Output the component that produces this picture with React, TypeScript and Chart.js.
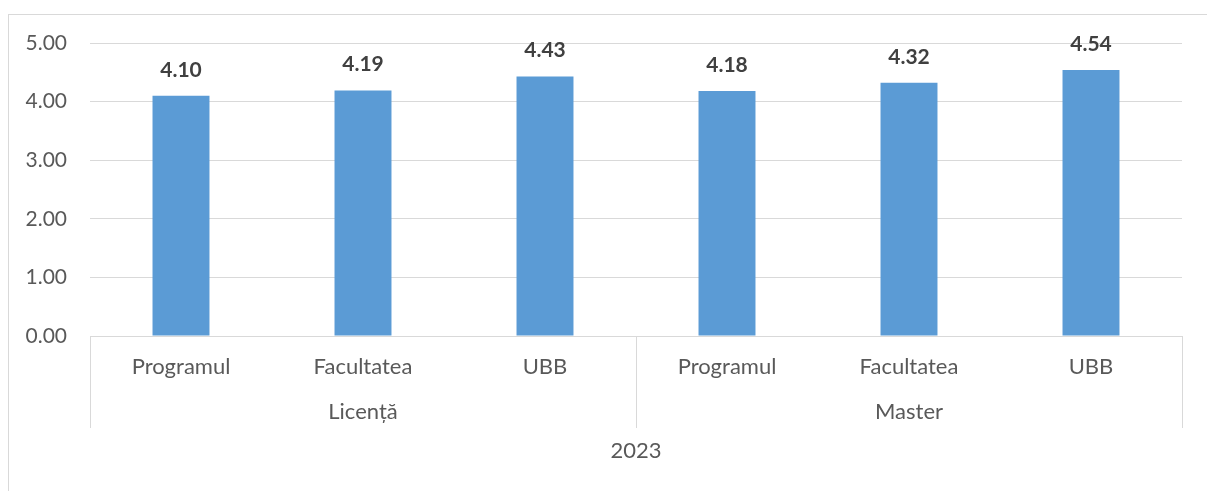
import React, { useEffect, useRef } from "react";
import { Chart, registerables } from "chart.js";

Chart.register(...registerables);

const categories = ["Programul", "Facultatea", "UBB", "Programul", "Facultatea", "UBB"];
const groups = ["Licență", "Master"];
const groupSizes = [3, 3];
const yearLabel = "2023";
const values = [4.1, 4.19, 4.43, 4.18, 4.32, 4.54];
const yTicks = [0, 1, 2, 3, 4, 5];

const FONT = "Lato, 'Open Sans', sans-serif";
const GRID = "#d9d9d9";

const multiLevelPlugin = {
  id: "multiLevel",
  afterDraw(chart: any) {
    const { ctx } = chart;
    const x = chart.scales.x;
    const area = chart.chartArea;
    const base = area.bottom;
    const lineBottom = base + 92;
    ctx.save();
    // separators
    ctx.strokeStyle = GRID;
    ctx.lineWidth = 1;
    const bounds: number[] = [x.left];
    let idx = 0;
    groupSizes.forEach((n) => {
      idx += n;
      if (idx >= categories.length) bounds.push(x.right);
      else bounds.push((x.getPixelForValue(idx - 1) + x.getPixelForValue(idx)) / 2);
    });
    bounds.forEach((b) => {
      const px = Math.round(b) + 0.5;
      ctx.beginPath();
      ctx.moveTo(px, base);
      ctx.lineTo(px, lineBottom);
      ctx.stroke();
    });
    // category labels
    ctx.fillStyle = "#595959";
    ctx.font = `22px ${FONT}`;
    ctx.textAlign = "center";
    ctx.textBaseline = "middle";
    categories.forEach((c, i) => {
      ctx.fillText(c, x.getPixelForValue(i), base + 31);
    });
    // group labels
    groups.forEach((g, i) => {
      const cx = (bounds[i] + bounds[i + 1]) / 2;
      ctx.fillText(g, cx, base + 76);
    });
    // year
    ctx.fillText(yearLabel, (x.left + x.right) / 2, base + 115);

    // data labels
    const meta = chart.getDatasetMeta(0);
    ctx.fillStyle = "#404040";
    ctx.font = `bold 21px ${FONT}`;
    ctx.textBaseline = "alphabetic";
    meta.data.forEach((bar: any, i: number) => {
      ctx.fillText(values[i].toFixed(2), bar.x, bar.y - 19);
    });
    ctx.restore();
  },
};

export default function App() {
  const ref = useRef<HTMLCanvasElement>(null);
  useEffect(() => {
    document.body.style.overflow = "hidden";
    const chart = new Chart(ref.current as HTMLCanvasElement, {
      type: "bar",
      data: {
        labels: categories,
        datasets: [
          {
            data: values,
            backgroundColor: "#5b9bd5",
            borderWidth: 0,
            barPercentage: 0.313,
            categoryPercentage: 1,
          },
        ],
      },
      options: {
        responsive: false,
        animation: false,
        layout: { padding: { top: 43, right: 25, left: 0, bottom: 0 } },
        plugins: { legend: { display: false }, tooltip: { enabled: false } },
        scales: {
          x: {
            grid: { display: false },
            border: { display: false },
            ticks: { display: false },
            afterFit: (s: any) => {
              s.height = 155;
            },
          },
          y: {
            min: 0,
            max: 5,
            afterBuildTicks: (s: any) => {
              s.ticks = yTicks.map((v) => ({ value: v }));
            },
            grid: { color: GRID, lineWidth: 1, drawTicks: false },
            border: { display: false },
            ticks: {
              padding: 23,
              color: "#595959",
              font: { family: FONT, size: 21 },
              callback: (v: any) => Number(v).toFixed(2),
            },
            afterFit: (s: any) => {
              s.width = 90;
            },
          },
        },
      },
      plugins: [multiLevelPlugin],
    });
    return () => chart.destroy();
  }, []);
  return (
    <div style={{ position: "fixed", left: 0, top: 0, width: 1207, height: 491, overflow: "hidden", background: "#fff" }}>
      <div
        style={{
          position: "absolute",
          left: 8,
          top: 14,
          width: 1240,
          height: 520,
          border: `1px solid ${GRID}`,
          boxSizing: "border-box",
        }}
      />
      <canvas
        ref={ref}
        width={1207}
        height={491}
        style={{ position: "absolute", left: 0, top: 0, width: 1207, height: 491 }}
      />
    </div>
  );
}
